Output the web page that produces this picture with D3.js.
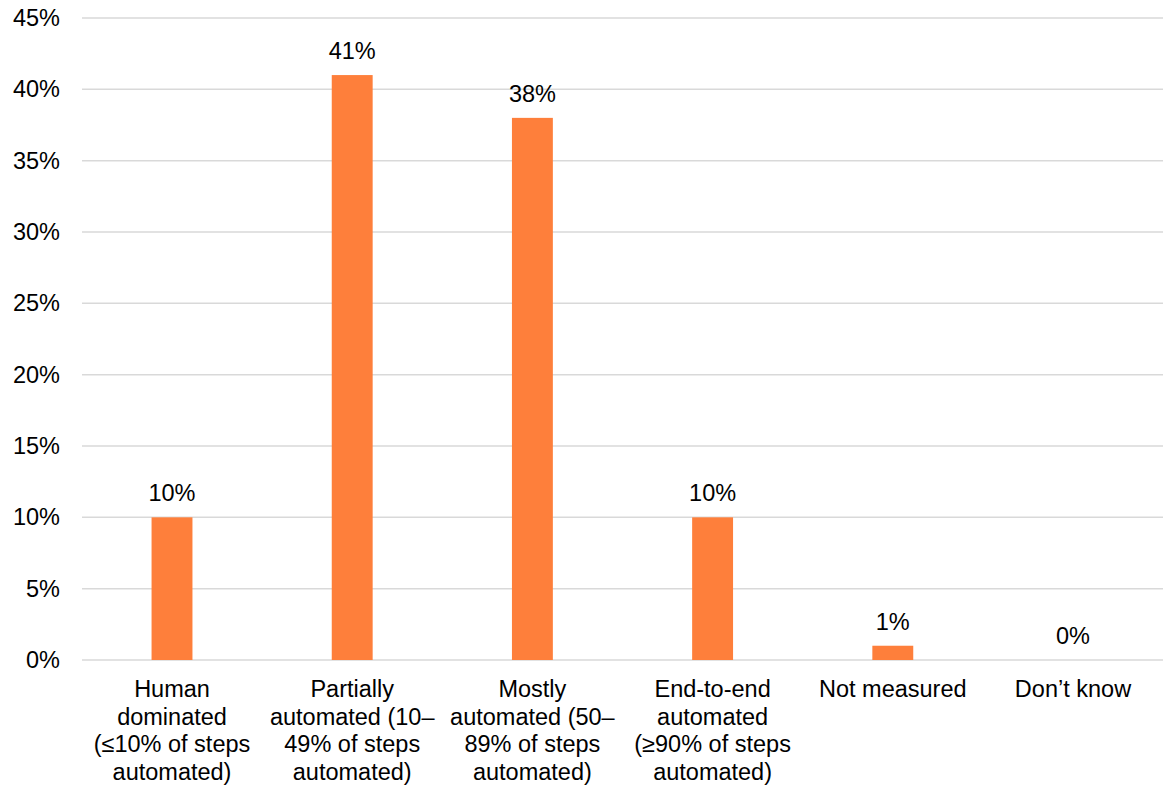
<!DOCTYPE html>
<html>
<head>
<meta charset="utf-8">
<script src="https://cdn.jsdelivr.net/npm/d3@7"></script>
<style>
  html, body { margin: 0; padding: 0; background: #fff; }
  svg { display: block; font-family: "Liberation Sans", Arial, sans-serif; }
</style>
</head>
<body>
<svg id="chart" width="1170" height="787"></svg>
<script>
// Share of process steps automated
const categories = [
  ["Human", "dominated", "(\u226410% of steps", "automated)"],
  ["Partially", "automated (10\u2013", "49% of steps", "automated)"],
  ["Mostly", "automated (50\u2013", "89% of steps", "automated)"],
  ["End-to-end", "automated", "(\u226590% of steps", "automated)"],
  ["Not measured"],
  ["Don\u2019t know"]
];
const values = [10, 41, 38, 10, 1, 0];
const yTicks = [0, 5, 10, 15, 20, 25, 30, 35, 40, 45];

const margin = { top: 18, right: 7, bottom: 127, left: 82 };
const W = 1170, H = 787;
const fontSize = 23.5;
const svg = d3.select("#chart");

const x = d3.scaleBand()
  .domain(d3.range(categories.length))
  .range([margin.left, W - margin.right])
  .paddingInner(0.773)
  .paddingOuter(0.386);

const y = d3.scaleLinear()
  .domain([0, 45])
  .range([H - margin.bottom, margin.top]);

// Horizontal gridlines
svg.append("g")
  .selectAll("line")
  .data(yTicks)
  .join("line")
  .attr("x1", margin.left)
  .attr("x2", W - margin.right)
  .attr("y1", d => y(d))
  .attr("y2", d => y(d))
  .attr("stroke", "#d9d9d9")
  .attr("stroke-width", 1.5);

// Y axis tick labels
const yAxis = d3.axisLeft(y).tickValues(yTicks).tickFormat(d => d + "%").tickSize(0).tickPadding(22);
const gy = svg.append("g").attr("transform", `translate(${margin.left},0)`).call(yAxis);
gy.select(".domain").remove();
gy.selectAll("text")
  .attr("font-size", fontSize)
  .attr("fill", "#000")
  .attr("font-family", "Liberation Sans, Arial, sans-serif");

// Bars
svg.append("g")
  .selectAll("rect")
  .data(values)
  .join("rect")
  .attr("x", (d, i) => x(i))
  .attr("width", x.bandwidth())
  .attr("y", d => y(d))
  .attr("height", d => y(0) - y(d))
  .attr("fill", "#fe7f3b");

// Value labels
svg.append("g")
  .selectAll("text")
  .data(values)
  .join("text")
  .attr("x", (d, i) => x(i) + x.bandwidth() / 2)
  .attr("y", d => y(d) - 16)
  .attr("text-anchor", "middle")
  .attr("font-size", fontSize)
  .attr("fill", "#000")
  .text(d => d + "%");

// Category labels
const cat = svg.append("g")
  .selectAll("text")
  .data(categories)
  .join("text")
  .attr("x", (d, i) => x(i) + x.bandwidth() / 2)
  .attr("y", y(0) + 37)
  .attr("text-anchor", "middle")
  .attr("font-size", fontSize)
  .attr("fill", "#000");
cat.selectAll("tspan")
  .data(d => d)
  .join("tspan")
  .attr("x", function () { return d3.select(this.parentNode).attr("x"); })
  .attr("dy", (d, i) => i === 0 ? 0 : 27.7)
  .text(d => d);
</script>
</body>
</html>
